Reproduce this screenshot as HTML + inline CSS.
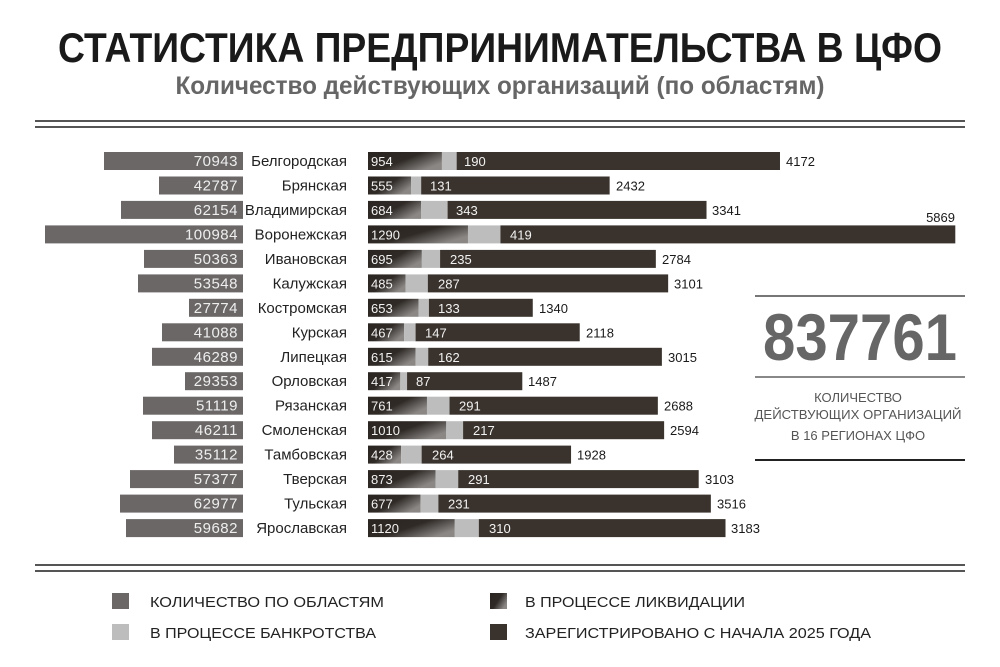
<!DOCTYPE html>
<html><head><meta charset="utf-8"><style>html,body{margin:0;padding:0;background:#fff}svg{display:block}</style></head><body>
<svg width="1000" height="667" viewBox="0 0 1000 667" xmlns="http://www.w3.org/2000/svg" font-family="Liberation Sans, sans-serif">
<defs>
<linearGradient id="lg" x1="0" y1="0" x2="1" y2="0.6"><stop offset="0" stop-color="#2b2521"/><stop offset="0.55" stop-color="#2f2a26"/><stop offset="1" stop-color="#8a8785"/></linearGradient>
</defs>
<rect width="1000" height="667" fill="#fff"/>
<text x="500" y="62" text-anchor="middle" font-size="42" font-weight="bold" fill="#1a1a1a" textLength="884" lengthAdjust="spacingAndGlyphs">СТАТИСТИКА ПРЕДПРИНИМАТЕЛЬСТВА В ЦФО</text>
<text x="500" y="94" text-anchor="middle" font-size="25" font-weight="bold" fill="#666" textLength="649" lengthAdjust="spacingAndGlyphs">Количество действующих организаций (по областям)</text>
<rect x="35" y="120" width="930" height="2" fill="#555"/><rect x="35" y="126" width="930" height="2" fill="#555"/>
<rect x="35" y="564" width="930" height="2" fill="#555"/><rect x="35" y="570" width="930" height="2" fill="#555"/>

<g fill="#6b6767">
<rect x="104" y="152" width="139" height="18"/><rect x="159" y="176.5" width="84" height="18"/><rect x="121" y="200.9" width="122" height="18"/><rect x="45" y="225.4" width="198" height="18"/>
<rect x="144" y="249.9" width="99" height="18"/><rect x="138" y="274.4" width="105" height="18"/><rect x="189" y="298.8" width="54" height="18"/><rect x="162" y="323.3" width="81" height="18"/>
<rect x="152" y="347.8" width="91" height="18"/><rect x="185" y="372.2" width="58" height="18"/><rect x="143" y="396.7" width="100" height="18"/><rect x="152" y="421.2" width="91" height="18"/>
<rect x="174" y="445.6" width="69" height="18"/><rect x="130" y="470.1" width="113" height="18"/><rect x="120" y="494.6" width="123" height="18"/><rect x="126" y="519.1" width="117" height="18"/>
</g>
<g font-size="15" fill="#eee" text-anchor="end" letter-spacing="0.5">
<text x="238" y="166">70943</text><text x="238" y="190.5">42787</text><text x="238" y="215">62154</text><text x="238" y="239.4">100984</text>
<text x="238" y="263.9">50363</text><text x="238" y="288.4">53548</text><text x="238" y="312.8">27774</text><text x="238" y="337.3">41088</text>
<text x="238" y="361.8">46289</text><text x="238" y="386.2">29353</text><text x="238" y="410.7">51119</text><text x="238" y="435.2">46211</text>
<text x="238" y="459.6">35112</text><text x="238" y="484.1">57377</text><text x="238" y="508.6">62977</text><text x="238" y="533.1">59682</text>
</g>
<g font-size="15" fill="#222" text-anchor="end">
<text x="347" y="166">Белгородская</text><text x="347" y="190.5">Брянская</text><text x="347" y="215">Владимирская</text><text x="347" y="239.4">Воронежская</text>
<text x="347" y="263.9">Ивановская</text><text x="347" y="288.4">Калужская</text><text x="347" y="312.8">Костромская</text><text x="347" y="337.3">Курская</text>
<text x="347" y="361.8">Липецкая</text><text x="347" y="386.2">Орловская</text><text x="347" y="410.7">Рязанская</text><text x="347" y="435.2">Смоленская</text>
<text x="347" y="459.6">Тамбовская</text><text x="347" y="484.1">Тверская</text><text x="347" y="508.6">Тульская</text><text x="347" y="533.1">Ярославская</text>
</g>

<g transform="translate(368,0) scale(0.0775,1)">
<g><rect x="0" y="152" width="954" height="18" fill="url(#lg)"/><rect x="954" y="152" width="190" height="18" fill="#bdbdbd"/><rect x="1144" y="152" width="4172" height="18" fill="#3a332d"/></g>
<g><rect x="0" y="176.5" width="555" height="18" fill="url(#lg)"/><rect x="555" y="176.5" width="131" height="18" fill="#bdbdbd"/><rect x="686" y="176.5" width="2432" height="18" fill="#3a332d"/></g>
<g><rect x="0" y="200.9" width="684" height="18" fill="url(#lg)"/><rect x="684" y="200.9" width="343" height="18" fill="#bdbdbd"/><rect x="1027" y="200.9" width="3341" height="18" fill="#3a332d"/></g>
<g><rect x="0" y="225.4" width="1290" height="18" fill="url(#lg)"/><rect x="1290" y="225.4" width="419" height="18" fill="#bdbdbd"/><rect x="1709" y="225.4" width="5869" height="18" fill="#3a332d"/></g>
<g><rect x="0" y="249.9" width="695" height="18" fill="url(#lg)"/><rect x="695" y="249.9" width="235" height="18" fill="#bdbdbd"/><rect x="930" y="249.9" width="2784" height="18" fill="#3a332d"/></g>
<g><rect x="0" y="274.4" width="485" height="18" fill="url(#lg)"/><rect x="485" y="274.4" width="287" height="18" fill="#bdbdbd"/><rect x="772" y="274.4" width="3101" height="18" fill="#3a332d"/></g>
<g><rect x="0" y="298.8" width="653" height="18" fill="url(#lg)"/><rect x="653" y="298.8" width="133" height="18" fill="#bdbdbd"/><rect x="786" y="298.8" width="1340" height="18" fill="#3a332d"/></g>
<g><rect x="0" y="323.3" width="467" height="18" fill="url(#lg)"/><rect x="467" y="323.3" width="147" height="18" fill="#bdbdbd"/><rect x="614" y="323.3" width="2118" height="18" fill="#3a332d"/></g>
<g><rect x="0" y="347.8" width="615" height="18" fill="url(#lg)"/><rect x="615" y="347.8" width="162" height="18" fill="#bdbdbd"/><rect x="777" y="347.8" width="3015" height="18" fill="#3a332d"/></g>
<g><rect x="0" y="372.2" width="417" height="18" fill="url(#lg)"/><rect x="417" y="372.2" width="87" height="18" fill="#bdbdbd"/><rect x="504" y="372.2" width="1487" height="18" fill="#3a332d"/></g>
<g><rect x="0" y="396.7" width="761" height="18" fill="url(#lg)"/><rect x="761" y="396.7" width="291" height="18" fill="#bdbdbd"/><rect x="1052" y="396.7" width="2688" height="18" fill="#3a332d"/></g>
<g><rect x="0" y="421.2" width="1010" height="18" fill="url(#lg)"/><rect x="1010" y="421.2" width="217" height="18" fill="#bdbdbd"/><rect x="1227" y="421.2" width="2594" height="18" fill="#3a332d"/></g>
<g><rect x="0" y="445.6" width="428" height="18" fill="url(#lg)"/><rect x="428" y="445.6" width="264" height="18" fill="#bdbdbd"/><rect x="692" y="445.6" width="1928" height="18" fill="#3a332d"/></g>
<g><rect x="0" y="470.1" width="873" height="18" fill="url(#lg)"/><rect x="873" y="470.1" width="291" height="18" fill="#bdbdbd"/><rect x="1164" y="470.1" width="3103" height="18" fill="#3a332d"/></g>
<g><rect x="0" y="494.6" width="677" height="18" fill="url(#lg)"/><rect x="677" y="494.6" width="231" height="18" fill="#bdbdbd"/><rect x="908" y="494.6" width="3516" height="18" fill="#3a332d"/></g>
<g><rect x="0" y="519.1" width="1120" height="18" fill="url(#lg)"/><rect x="1120" y="519.1" width="310" height="18" fill="#bdbdbd"/><rect x="1430" y="519.1" width="3183" height="18" fill="#3a332d"/></g>
</g>

<g font-size="13" fill="#f2f2f2">
<text x="371" y="166">954</text><text x="371" y="190.5">555</text><text x="371" y="215">684</text><text x="371" y="239.4">1290</text>
<text x="371" y="263.9">695</text><text x="371" y="288.4">485</text><text x="371" y="312.8">653</text><text x="371" y="337.3">467</text>
<text x="371" y="361.8">615</text><text x="371" y="386.2">417</text><text x="371" y="410.7">761</text><text x="371" y="435.2">1010</text>
<text x="371" y="459.6">428</text><text x="371" y="484.1">873</text><text x="371" y="508.6">677</text><text x="371" y="533.1">1120</text>
<text x="464" y="166">190</text><text x="430" y="190.5">131</text><text x="456" y="215">343</text><text x="510" y="239.4">419</text>
<text x="450" y="263.9">235</text><text x="438" y="288.4">287</text><text x="438" y="312.8">133</text><text x="425" y="337.3">147</text>
<text x="438" y="361.8">162</text><text x="416" y="386.2">87</text><text x="459" y="410.7">291</text><text x="473" y="435.2">217</text>
<text x="432" y="459.6">264</text><text x="468" y="484.1">291</text><text x="448" y="508.6">231</text><text x="489" y="533.1">310</text>
</g>
<g font-size="13" fill="#1a1a1a">
<text x="786" y="166">4172</text><text x="616" y="190.5">2432</text><text x="712" y="215">3341</text><text x="955" y="222" text-anchor="end">5869</text>
<text x="662" y="263.9">2784</text><text x="674" y="288.4">3101</text><text x="539" y="312.8">1340</text><text x="586" y="337.3">2118</text>
<text x="668" y="361.8">3015</text><text x="528" y="386.2">1487</text><text x="664" y="410.7">2688</text><text x="670" y="435.2">2594</text>
<text x="577" y="459.6">1928</text><text x="705" y="484.1">3103</text><text x="717" y="508.6">3516</text><text x="731" y="533.1">3183</text>
</g>

<rect x="755" y="295" width="210" height="2" fill="#777"/>
<rect x="755" y="376" width="210" height="2" fill="#888"/>
<rect x="755" y="459" width="210" height="2" fill="#222"/>
<text x="860" y="360" text-anchor="middle" font-size="66" font-weight="bold" fill="#666" textLength="194" lengthAdjust="spacingAndGlyphs">837761</text>
<g font-size="13" fill="#555" text-anchor="middle">
<text x="858" y="402">КОЛИЧЕСТВО</text>
<text x="858" y="419" textLength="207" lengthAdjust="spacingAndGlyphs">ДЕЙСТВУЮЩИХ ОРГАНИЗАЦИЙ</text>
<text x="858" y="440">В 16 РЕГИОНАХ ЦФО</text>
</g>

<rect x="112" y="593" width="17" height="16" fill="#6b6767"/>
<rect x="112" y="624" width="17" height="16" fill="#bdbdbd"/>
<rect x="490" y="593" width="17" height="16" fill="url(#lg)"/>
<rect x="490" y="624" width="17" height="16" fill="#3a332d"/>
<g font-size="15" fill="#222">
<text x="150" y="607" textLength="234" lengthAdjust="spacingAndGlyphs">КОЛИЧЕСТВО ПО ОБЛАСТЯМ</text>
<text x="150" y="638" textLength="226" lengthAdjust="spacingAndGlyphs">В ПРОЦЕССЕ БАНКРОТСТВА</text>
<text x="525" y="607" textLength="220" lengthAdjust="spacingAndGlyphs">В ПРОЦЕССЕ ЛИКВИДАЦИИ</text>
<text x="525" y="638" textLength="346" lengthAdjust="spacingAndGlyphs">ЗАРЕГИСТРИРОВАНО С НАЧАЛА 2025 ГОДА</text>
</g>
</svg>
</body></html>
